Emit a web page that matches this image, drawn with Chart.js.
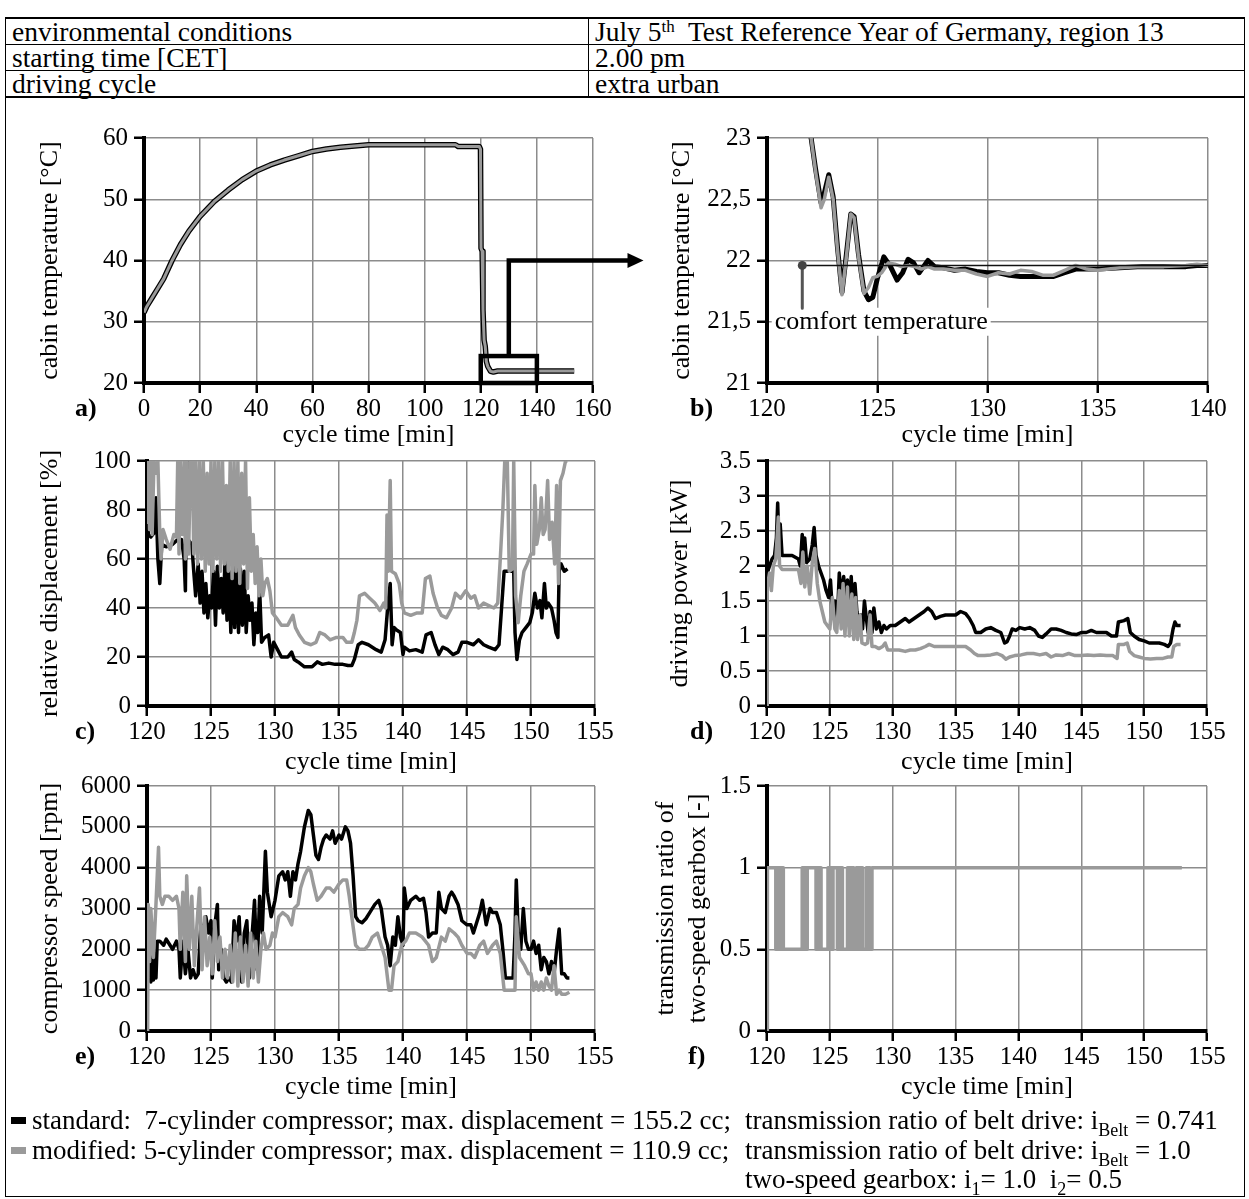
<!DOCTYPE html>
<html>
<head>
<meta charset="utf-8">
<script src="https://cdn.jsdelivr.net/npm/chart.js@4.4.1/dist/chart.umd.min.js"></script>
<style>
  body { margin: 0; background: #fff; width: 1249px; height: 1199px; position: relative; overflow: hidden;
         font-family: 'Liberation Serif', 'Times New Roman', serif; color: #000; }
  #frame { position: absolute; left: 5px; top: 17px; width: 1240px; height: 1180px; border: 1.5px solid #000; box-sizing: border-box; }
  #info { position: absolute; left: 5px; top: 17px; width: 1240px; border-collapse: collapse; table-layout: fixed; font-size: 27.5px; }
  #info td { border: 1.5px solid #000; height: 25px; padding: 0 0 0 6px; line-height: 25px; white-space: nowrap; }
  #info tr:first-child td { border-top: 2.5px solid #000; }
  #info tr:last-child td { border-bottom: 2.5px solid #000; }
  sup { font-size: 17px; vertical-align: 9px; line-height: 0; }
  sub { font-size: 18px; vertical-align: -7px; line-height: 0; }
  canvas { position: absolute; }
  .lbl { position: absolute; font-weight: bold; font-size: 26px; line-height: 30px; }
  .leg { position: absolute; font-size: 27px; line-height: 30px; white-space: pre; }
  .mark { position: absolute; width: 15px; height: 7px; }
</style>
</head>
<body>
<div id="frame"></div>
<table id="info">
  <colgroup><col style="width:583px"><col></colgroup>
  <tr><td>environmental conditions</td><td>July 5<sup>th</sup>&nbsp; Test Reference Year of Germany, region 13</td></tr>
  <tr><td>starting time [CET]</td><td>2.00 pm</td></tr>
  <tr><td>driving cycle</td><td>extra urban</td></tr>
</table>

<canvas id="pa" width="648" height="338" style="left:0px;top:117px"></canvas>
<canvas id="pb" width="619" height="338" style="left:630px;top:117px"></canvas>
<canvas id="pc" width="630" height="342" style="left:0px;top:440px"></canvas>
<canvas id="pd" width="619" height="342" style="left:630px;top:440px"></canvas>
<canvas id="pe" width="630" height="342" style="left:0px;top:765px"></canvas>
<canvas id="pf" width="619" height="342" style="left:630px;top:765px"></canvas>

<div class="lbl" style="left:75px;top:393px">a)</div>
<div class="lbl" style="left:690px;top:393px">b)</div>
<div class="lbl" style="left:75px;top:716px">c)</div>
<div class="lbl" style="left:690px;top:716px">d)</div>
<div class="lbl" style="left:75px;top:1041px">e)</div>
<div class="lbl" style="left:688px;top:1041px">f)</div>

<div class="mark" style="left:11px;top:1117px;background:#000"></div>
<div class="leg" style="left:32px;top:1105px">standard:  7-cylinder compressor; max. displacement = 155.2 cc;</div>
<div class="leg" style="left:745px;top:1105px">transmission ratio of belt drive: i<sub>Belt</sub> = 0.741</div>
<div class="mark" style="left:11px;top:1147px;background:#9a9a9a"></div>
<div class="leg" style="left:32px;top:1135px">modified: 5-cylinder compressor; max. displacement = 110.9 cc;</div>
<div class="leg" style="left:745px;top:1135px">transmission ratio of belt drive: i<sub>Belt</sub> = 1.0</div>
<div class="leg" style="left:745px;top:1164px">two-speed gearbox: i<sub>1</sub>= 1.0&nbsp; i<sub>2</sub>= 0.5</div>

<script>
// ---- data: [cycle time min, value] ----
// a) cabin temperature, whole cycle (both variants coincide at this scale)
const cabinTempStandard = [[0,31.5],[1,32.5],[3,34],[5,35.5],[7,37],[10,40],[13,42.6],[16,44.8],[20,47.2],[25,49.6],
  [30,51.5],[35,53.2],[40,54.6],[45,55.6],[50,56.4],[55,57.1],[60,57.8],[65,58.2],[70,58.5],[75,58.7],[80,58.9],
  [111,58.9],[112,58.6],[119.5,58.6],[119.9,58.2],[120.1,42],[120.5,41.5],[120.8,32],[121.2,27],[121.6,26],
  [122,23.5],[122.5,22.7],[123,22.3],[123.5,21.9],[124.5,21.8],[126,21.95],[153.3,21.95]];
const cabinTempModified = cabinTempStandard.slice();
const zoomBox = [120, 140, 20, 24.4];   // t0, t1, T0, T1
const arrowPath = [130, 24.4, 40, 178]; // x, from T, to T, arrow tip t

// b) cabin temperature, zoom
const zoomTempStandard = [[121.85,23.3],[122.0,23.0],[122.2,22.75],[122.45,22.47],[122.6,22.55],[122.8,22.7],[123.0,22.52],
  [123.2,22.1],[123.4,21.74],[123.6,22.05],[123.8,22.38],[123.95,22.36],[124.15,22.05],[124.4,21.75],[124.6,21.68],
  [124.8,21.7],[125.0,21.85],[125.3,22.03],[125.6,21.95],[125.9,21.84],[126.15,21.9],[126.4,22.01],[126.65,21.98],
  [126.9,21.9],[127.1,21.95],[127.3,22.0],[127.6,21.95],[128,21.94],[128.5,21.92],[129,21.93],[129.5,21.91],[130,21.9],
  [130.5,21.9],[131,21.88],[131.5,21.87],[132,21.87],[132.5,21.87],[133,21.87],[133.5,21.9],[134,21.93],[134.5,21.93],
  [135,21.93],[136,21.94],[137,21.95],[138,21.95],[139,21.95],[139.5,21.96],[140,21.96]];
const zoomTempModified = [[121.85,23.3],[122.0,23.0],[122.2,22.73],[122.45,22.43],[122.6,22.5],[122.8,22.68],[123.0,22.5],
  [123.2,22.08],[123.4,21.72],[123.6,22.03],[123.8,22.38],[123.95,22.35],[124.15,22.03],[124.4,21.73],[124.6,21.78],
  [124.8,21.86],[125.0,21.87],[125.2,21.9],[125.5,21.98],[125.8,21.97],[126.1,21.95],[126.4,21.96],[126.7,21.95],
  [127.0,21.93],[127.3,21.95],[127.6,21.93],[128,21.93],[128.5,21.92],[129,21.92],[129.5,21.89],[130,21.87],[130.5,21.9],
  [131,21.89],[131.5,21.92],[132,21.91],[132.5,21.88],[133,21.88],[133.5,21.92],[134,21.96],[134.5,21.93],[135,21.92],
  [136,21.94],[137,21.95],[138,21.95],[139,21.96],[139.5,21.97],[140,21.96]];
const comfortLine = [[121.6,21.96],[140,21.96]];
const comfortStick = [[121.6,21.96],[121.6,21.61]];
const comfortLabel = [120.35, 21.5, 'comfort temperature'];

// c) relative displacement [%]
const dispStandard = [[120.0,100],[120.1,70],[120.3,69],[120.6,71],[120.7,85],[120.85,60],[121.0,50],[121.15,66],[121.5,65],
  [122.0,66],[122.4,68],[122.7,68],[122.9,60],[123.0,47],[123.1,100],[123.2,68],[123.35,67],[123.5,66],[123.65,55],[123.8,45],
  [124.0,58],[124.15,42],[124.3,55],[124.45,38],[124.6,50],[124.75,36],[124.9,45],[125.05,40],[125.2,55],[125.35,33],
  [125.5,57],[125.65,40],[125.8,52],[125.95,38],[126.1,60],[126.25,35],[126.4,55],[126.55,30],[126.7,58],[126.85,32],
  [127.0,62],[127.15,30],[127.3,56],[127.45,33],[127.6,55],[127.75,30],[127.9,45],[128.05,35],[128.2,42],[128.35,25],
  [128.5,38],[128.65,30],[128.8,48],[128.95,26],[129.2,28],[129.5,29],[129.7,20],[129.9,26],[130.2,23],[130.5,20],
  [131.0,20],[131.3,22],[131.5,19],[131.8,18],[132.3,16],[132.9,16],[133.3,18],[133.7,17],[134.2,17.5],[134.7,17],
  [135.3,17],[135.7,16.5],[136.0,16.5],[136.2,19],[136.5,25],[136.8,26],[137.3,25],[137.9,23],[138.3,22],[138.6,27],
  [138.8,40],[139.0,50],[139.15,25],[139.3,32],[139.5,31],[139.8,30],[140.0,21],[140.1,24],[140.5,22.5],[141.0,23],
  [141.5,22],[141.8,29],[142.2,30],[142.5,25],[142.8,21],[143.1,24],[143.5,23],[143.9,21],[144.3,22],[144.6,26],
  [145.0,26],[145.5,25],[145.9,27],[146.3,25],[146.7,24],[147.2,23],[147.5,25],[147.7,40],[147.9,55],[148.3,55],
  [148.65,55],[148.75,30],[148.9,19],[149.1,27],[149.3,30],[149.6,32],[149.9,34],[150.1,38],[150.3,46],[150.5,40],
  [150.7,43],[150.85,36],[151.05,50],[151.2,40],[151.35,42],[151.6,40],[151.8,35],[151.95,30],[152.1,28],[152.2,55],
  [152.35,58],[152.6,55],[152.85,56]];
const dispModified = [[120.0,100],[120.05,75],[120.12,100],[120.2,72],[120.3,100],[120.4,70],[120.55,100],[120.7,95],
  [120.85,100],[121.0,70],[121.1,60],[121.25,72],[121.5,68],[121.8,64],[122.1,70],[122.3,69],[122.4,100],[122.5,62],
  [122.6,100],[122.75,70],[122.9,100],[123.0,60],[123.1,100],[123.25,62],[123.4,100],[123.55,100],[123.65,62],[123.8,100],
  [123.95,58],[124.1,100],[124.25,60],[124.4,100],[124.55,55],[124.7,95],[124.85,58],[125.0,100],[125.15,55],[125.3,100],
  [125.45,60],[125.6,100],[125.75,55],[125.9,100],[126.05,58],[126.2,90],[126.35,55],[126.5,100],[126.65,52],[126.8,100],
  [126.95,55],[127.1,100],[127.25,50],[127.4,95],[127.55,58],[127.7,100],[127.85,48],[128.0,85],[128.15,55],[128.3,70],
  [128.45,50],[128.6,65],[128.75,45],[128.9,60],[129.05,45],[129.2,50],[129.4,52],[129.6,47],[129.8,38],[130.1,36],
  [130.5,33],[131.0,33],[131.4,37],[131.6,32],[131.9,29],[132.3,26],[132.8,25],[133.2,26],[133.5,30],[133.9,29],
  [134.3,27],[134.8,28],[135.3,28],[135.6,26],[136.0,26],[136.2,30],[136.4,35],[136.6,45],[137.0,46],[137.4,44],
  [137.8,42],[138.2,39],[138.5,42],[138.65,40],[138.75,78],[138.85,55],[139.0,92],[139.1,55],[139.4,54],[139.7,50],
  [139.9,42],[140.1,38],[140.6,37],[141.1,38],[141.5,38],[141.75,52],[142.1,53],[142.35,46],[142.7,40],[143.0,37],
  [143.4,36],[143.8,40],[144.1,46],[144.5,44],[144.9,47],[145.3,44],[145.6,45],[145.9,40],[146.3,42],[146.7,41],
  [147.1,40],[147.4,42],[147.6,60],[147.8,80],[147.95,100],[148.15,100],[148.3,55],[148.55,56],[148.65,100],[148.8,45],
  [149.0,34],[149.2,45],[149.45,55],[149.7,58],[150.0,62],[150.2,62],[150.3,90],[150.45,66],[150.65,72],[150.8,85],
  [150.95,70],[151.1,72],[151.3,92],[151.45,68],[151.65,75],[151.85,58],[152.0,90],[152.15,50],[152.3,92],[152.5,95],
  [152.7,100],[152.85,100]];

// d) driving power [kW]
const powerStandard = [[120.0,0],[120.02,1.9],[120.2,2.0],[120.4,2.1],[120.6,2.15],[120.75,2.4],[120.85,2.9],[120.95,2.3],
  [121.05,2.6],[121.2,2.15],[121.6,2.15],[122.0,2.15],[122.5,2.1],[122.65,2.0],[122.8,2.45],[122.9,2.2],[123.0,2.4],
  [123.15,2.05],[123.4,2.1],[123.6,2.3],[123.75,2.55],[123.9,2.15],[124.1,2.0],[124.3,1.9],[124.5,1.8],[124.7,1.65],
  [124.9,1.55],[125.05,1.8],[125.2,1.35],[125.4,1.5],[125.6,1.25],[125.75,1.9],[125.9,1.55],[126.1,1.85],[126.25,1.45],
  [126.4,1.8],[126.55,1.3],[126.7,1.85],[126.85,1.25],[127.0,1.75],[127.15,1.35],[127.3,1.2],[127.45,1.3],[127.6,1.1],
  [127.75,1.5],[127.9,1.25],[128.05,1.05],[128.2,1.35],[128.35,1.05],[128.5,1.4],[128.7,1.1],[128.9,1.2],[129.1,1.05],
  [129.3,1.15],[129.5,1.1],[129.8,1.15],[130.2,1.15],[130.6,1.2],[131.0,1.25],[131.3,1.2],[131.7,1.25],[132.1,1.3],
  [132.5,1.35],[132.8,1.4],[133.1,1.35],[133.4,1.25],[133.8,1.28],[134.2,1.3],[134.6,1.3],[135.0,1.3],[135.4,1.35],
  [135.8,1.32],[136.1,1.25],[136.4,1.15],[136.6,1.05],[137.0,1.05],[137.4,1.1],[137.8,1.12],[138.2,1.08],[138.6,1.05],
  [138.9,0.9],[139.1,0.92],[139.3,1.0],[139.5,1.1],[139.8,1.08],[140.1,1.12],[140.5,1.1],[140.9,1.12],[141.3,1.08],
  [141.6,1.0],[141.9,0.98],[142.2,1.03],[142.6,1.1],[143.0,1.1],[143.4,1.08],[143.8,1.05],[144.2,1.03],[144.6,1.02],
  [145.0,1.05],[145.4,1.05],[145.8,1.08],[146.2,1.05],[146.6,1.05],[147.0,1.05],[147.4,1.0],[147.8,1.0],[147.95,1.2],
  [148.4,1.22],[148.7,1.25],[148.9,1.05],[149.2,1.0],[149.6,0.95],[150.0,0.93],[150.4,0.9],[150.8,0.9],[151.2,0.9],
  [151.6,0.88],[151.9,0.85],[152.1,0.9],[152.3,1.1],[152.45,1.2],[152.6,1.15],[152.9,1.15]];
const powerModified = [[120.0,0],[120.02,1.7],[120.2,1.9],[120.35,1.65],[120.5,2.0],[120.7,2.1],[120.8,2.4],[120.9,2.7],
  [121.0,2.0],[121.2,1.95],[121.6,1.95],[122.0,1.95],[122.5,1.95],[122.7,1.75],[122.85,2.2],[123.0,1.7],[123.2,2.0],
  [123.4,1.6],[123.6,2.05],[123.8,2.25],[124.0,1.75],[124.2,1.5],[124.4,1.35],[124.6,1.2],[124.8,1.15],[125.0,1.1],
  [125.2,1.55],[125.4,1.1],[125.55,1.05],[125.75,1.65],[125.9,1.1],[126.05,1.75],[126.2,1.0],[126.4,1.7],[126.55,1.0],
  [126.75,1.6],[126.9,0.95],[127.05,1.55],[127.2,0.95],[127.4,1.3],[127.55,0.9],[127.8,0.88],[128.0,0.9],[128.2,1.3],
  [128.35,0.85],[128.6,0.85],[128.9,0.82],[129.2,0.85],[129.4,0.9],[129.6,0.8],[130.0,0.8],[130.5,0.8],[131.0,0.78],
  [131.4,0.8],[131.8,0.8],[132.2,0.82],[132.6,0.85],[132.9,0.88],[133.3,0.85],[133.8,0.85],[134.3,0.85],[134.8,0.85],
  [135.3,0.85],[135.8,0.85],[136.2,0.8],[136.5,0.75],[136.8,0.72],[137.3,0.72],[137.8,0.73],[138.3,0.75],[138.7,0.72],
  [139.0,0.67],[139.3,0.7],[139.7,0.72],[140.2,0.73],[140.7,0.75],[141.2,0.75],[141.7,0.73],[142.2,0.75],[142.6,0.7],
  [143.0,0.73],[143.5,0.72],[144.0,0.75],[144.5,0.72],[145.0,0.72],[145.5,0.73],[146.0,0.72],[146.5,0.73],[147.0,0.72],
  [147.5,0.72],[147.85,0.68],[147.95,0.88],[148.4,0.88],[148.65,0.9],[148.85,0.78],[149.2,0.72],[149.6,0.7],[150.0,0.68],
  [150.5,0.67],[151.0,0.68],[151.5,0.68],[151.9,0.7],[152.2,0.7],[152.35,0.85],[152.6,0.88],[152.9,0.88]];

// e) compressor speed [rpm]
const speedStandard = [[120.1,1300],[120.2,2100],[120.3,1200],[120.4,1800],[120.5,1250],[120.6,1900],[120.7,1300],[120.8,2200],
  [121.0,2200],[121.3,2100],[121.5,2250],[121.8,2100],[122.0,2000],[122.3,2200],[122.5,2000],[122.6,1300],[122.8,2200],
  [123.0,1400],[123.2,2000],[123.4,1300],[123.6,1500],[123.8,1300],[124.0,1400],[124.2,2600],[124.4,2500],[124.6,2800],
  [124.8,2400],[125.0,2700],[125.1,1300],[125.3,2600],[125.5,3100],[125.6,1500],[125.8,2000],[126.0,1300],[126.2,1200],
  [126.4,1300],[126.6,1200],[126.8,2700],[127.0,2200],[127.2,2800],[127.4,1200],[127.6,2400],[127.8,2700],[128.0,1300],
  [128.2,2300],[128.4,3200],[128.6,1500],[128.8,3300],[129.0,2400],[129.25,4400],[129.4,3400],[129.5,3200],[129.7,2800],
  [130.0,3200],[130.3,3800],[130.6,3900],[130.8,3700],[131.0,3900],[131.2,3300],[131.4,3900],[131.6,3700],[131.8,4100],
  [132.0,4400],[132.3,5000],[132.6,5400],[132.8,5300],[133.0,4800],[133.2,4300],[133.4,4200],[133.6,4500],[133.8,4700],
  [134.0,4800],[134.3,4700],[134.5,4900],[134.7,4600],[135.0,4800],[135.2,4700],[135.5,5000],[135.7,4900],[135.9,4600],
  [136.1,3800],[136.3,2800],[136.5,2700],[136.8,2650],[137.1,2750],[137.4,2900],[137.8,3100],[138.1,3200],[138.3,3000],
  [138.6,2300],[138.8,2100],[139.0,1600],[139.2,2300],[139.4,2100],[139.6,2800],[139.8,2300],[140.0,2100],[140.1,3500],
  [140.3,3000],[140.6,3200],[141.0,3300],[141.3,3200],[141.6,3250],[141.8,2900],[142.0,2300],[142.3,2400],[142.6,2400],
  [142.8,3400],[143.0,3000],[143.3,2900],[143.6,3300],[143.8,3400],[144.0,3300],[144.3,3100],[144.6,2700],[145.0,2600],
  [145.3,2600],[145.5,2400],[145.8,2700],[146.0,2900],[146.2,3200],[146.5,2600],[146.8,3000],[147.0,2900],[147.3,2900],
  [147.6,2600],[147.8,2000],[148.0,1300],[148.3,1300],[148.6,1300],[148.75,2400],[148.85,3700],[149.0,2400],[149.2,2000],
  [149.4,3000],[149.6,2200],[149.8,2000],[150.0,2000],[150.2,2200],[150.4,1900],[150.6,2100],[150.8,1500],[151.0,1800],
  [151.2,1700],[151.4,1400],[151.6,1700],[151.8,1400],[152.0,2000],[152.2,2500],[152.4,1400],[152.6,1400],[152.8,1300],
  [153.0,1300]];
const speedModified = [[120.05,0],[120.1,3100],[120.2,1700],[120.3,3000],[120.5,1800],[120.7,3100],[120.9,4500],[121.0,3300],
  [121.2,3100],[121.4,3300],[121.7,3300],[122.0,3200],[122.3,3300],[122.5,3000],[122.6,2000],[122.8,3400],[123.0,1700],
  [123.1,3800],[123.3,2000],[123.5,3300],[123.7,1600],[123.9,2600],[124.1,3500],[124.3,1500],[124.5,2800],[124.7,1600],
  [124.9,2300],[125.1,1400],[125.3,2700],[125.5,1700],[125.7,2300],[125.9,1300],[126.1,2000],[126.3,1300],[126.5,2100],
  [126.7,1200],[126.9,2400],[127.1,1100],[127.3,2300],[127.5,1200],[127.7,2100],[127.9,1100],[128.1,2400],[128.3,1300],
  [128.5,2200],[128.7,1200],[128.9,2000],[129.1,2400],[129.3,2000],[129.6,2100],[129.8,2400],[130.0,2300],[130.3,2800],
  [130.6,2900],[131.0,2800],[131.3,2600],[131.5,3000],[131.8,3100],[132.0,3500],[132.3,3800],[132.6,4000],[132.8,3900],
  [133.0,3600],[133.3,3200],[133.6,3300],[134.0,3500],[134.3,3500],[134.6,3400],[135.0,3600],[135.3,3700],[135.6,3700],
  [135.8,3300],[136.0,2800],[136.3,2100],[136.6,2000],[137.0,2000],[137.3,2100],[137.6,2300],[138.0,2400],[138.3,2100],
  [138.6,1800],[138.9,1000],[139.1,1000],[139.3,1600],[139.6,1700],[139.9,2100],[140.2,2200],[140.5,2400],[141.0,2400],
  [141.5,2300],[142.0,2100],[142.3,1700],[142.6,1800],[143.0,2300],[143.3,2200],[143.6,2500],[144.0,2400],[144.3,2300],
  [144.6,2100],[145.0,1900],[145.3,1900],[145.6,1800],[146.0,2100],[146.3,2200],[146.6,1900],[147.0,2100],[147.3,2200],
  [147.6,1900],[147.9,1000],[148.2,1000],[148.5,1000],[148.75,1000],[148.85,2800],[149.1,1800],[149.5,1600],[149.8,1400],
  [150.0,1400],[150.2,1000],[150.4,1200],[150.6,1000],[150.8,1200],[151.0,1000],[151.2,1300],[151.4,1100],[151.6,1000],
  [151.8,1600],[152.0,900],[152.2,1000],[152.4,900],[152.7,900],[153.0,950]];

// f) transmission ratio of two-speed gearbox (value holds from the given time on)
const gearRatioModified = [[120.0,0],[120.03,1],[120.7,0.5],[120.8,1],[120.9,0.5],[121.0,1],[121.1,0.5],[121.2,1],[121.3,0.5],
  [122.8,1],[122.9,0.5],[123.0,1],[123.1,0.5],[123.2,1],[123.9,0.5],[124.0,1],[124.1,0.5],[124.2,1],[124.3,0.5],
  [124.85,1],[124.95,0.5],[125.05,1],[125.15,0.5],[125.25,1],[125.6,0.5],[125.7,1],[125.8,0.5],[125.9,1],[126.0,0.5],
  [126.4,1],[126.5,0.5],[126.6,1],[126.7,0.5],[126.8,1],[126.9,0.5],[127.1,1],[127.2,0.5],[127.3,1],[127.4,0.5],
  [127.5,1],[127.6,0.5],[127.9,1],[128.0,0.5],[128.1,1],[128.2,0.5],[128.35,1],[153.0,1]];

// ticks
const aXTicks = [0, 20, 40, 60, 80, 100, 120, 140, 160];
const aYTicks = [20, 30, 40, 50, 60];
const bXTicks = [120, 125, 130, 135, 140];
const bYTicks = [21, 21.5, 22, 22.5, 23];
const bYLabels = ['21', '21,5', '22', '22,5', '23'];
const timeTicks = [120, 125, 130, 135, 140, 145, 150, 155];
const cYTicks = [0, 20, 40, 60, 80, 100];
const dYTicks = [0, 0.5, 1, 1.5, 2, 2.5, 3, 3.5];
const eYTicks = [0, 1000, 2000, 3000, 4000, 5000, 6000];
const fYTicks = [0, 0.5, 1, 1.5];

// ---- drawing ----
const FONT = "'Liberation Serif', 'Times New Roman', serif";
const BLACK = '#000000', GRAY = '#9a9a9a', GRID = '#8c8c8c';
Chart.defaults.font.family = FONT;
Chart.defaults.color = '#000';

function pts(pairs) { return pairs.map(p => ({ x: p[0], y: p[1] })); }

function line(pairs, color, width, order, extra) {
  return Object.assign({
    data: pts(pairs), borderColor: color, backgroundColor: color, borderWidth: width,
    pointRadius: 0, tension: 0, fill: false, order: order, borderJoinStyle: 'round'
  }, extra || {});
}

function axis(ticks, labels, size, isX, title, titleLH) {
  return {
    type: 'linear',
    min: ticks[0], max: ticks[ticks.length - 1],
    afterBuildTicks: s => { s.ticks = ticks.map(v => ({ value: v })); },
    afterFit: s => { if (isX) s.height = size; else s.width = size; },
    ticks: {
      callback: (v, i) => labels ? labels[i] : String(v),
      font: { size: 25 }, color: '#000', padding: isX ? 1 : 6, autoSkip: false, maxRotation: 0
    },
    grid: { color: GRID, lineWidth: 1.5, tickColor: '#000', tickLength: 10, tickWidth: 2.5 },
    border: { color: '#000', width: 4 },
    title: { display: true, text: title, color: '#000', font: { size: 26, lineHeight: titleLH || 1.2 }, padding: { top: 4, bottom: 4 } }
  };
}

function panel(id, o) {
  return new Chart(document.getElementById(id), {
    type: 'line',
    data: { datasets: o.datasets },
    options: {
      responsive: false, animation: false, devicePixelRatio: 1,
      layout: { padding: { left: o.pl, right: o.pr, top: 20, bottom: 0 } },
      plugins: { legend: { display: false }, tooltip: { enabled: false } },
      scales: {
        x: axis(o.xTicks, null, o.xh, true, 'cycle time [min]'),
        y: axis(o.yTicks, o.yLabels, o.yw, false, o.yTitle, o.titleLH)
      }
    },
    plugins: o.plugins || []
  });
}

// zoom box and arrow in panel a
const boxArrow = {
  id: 'boxArrow',
  afterDatasetsDraw(chart) {
    const { ctx, scales: { x, y } } = chart;
    ctx.save();
    ctx.strokeStyle = '#000';
    ctx.fillStyle = '#000';
    ctx.lineWidth = 4.5;
    const bx0 = x.getPixelForValue(zoomBox[0]), bx1 = x.getPixelForValue(zoomBox[1]);
    const by0 = y.getPixelForValue(zoomBox[2]), by1 = y.getPixelForValue(zoomBox[3]);
    ctx.strokeRect(bx0, by1, bx1 - bx0, by0 - by1);
    const ax = x.getPixelForValue(arrowPath[0]);
    const ay0 = y.getPixelForValue(arrowPath[1]), ay1 = y.getPixelForValue(arrowPath[2]);
    const tip = x.getPixelForValue(arrowPath[3]);
    ctx.lineJoin = 'miter';
    ctx.beginPath();
    ctx.moveTo(ax, ay0);
    ctx.lineTo(ax, ay1);
    ctx.lineTo(tip - 14, ay1);
    ctx.stroke();
    ctx.beginPath();
    ctx.moveTo(tip, ay1);
    ctx.lineTo(tip - 16, ay1 - 7.5);
    ctx.lineTo(tip - 16, ay1 + 7.5);
    ctx.closePath();
    ctx.fill();
    ctx.restore();
  }
};

// "comfort temperature" label in panel b
const comfortText = {
  id: 'comfortText',
  beforeDatasetsDraw(chart) {
    const { ctx, scales: { x, y } } = chart;
    ctx.save();
    ctx.font = '26px ' + FONT;
    const px = x.getPixelForValue(comfortLabel[0]), py = y.getPixelForValue(comfortLabel[1]);
    const w = ctx.measureText(comfortLabel[2]).width;
    ctx.fillStyle = '#fff';
    ctx.fillRect(px - 3, py - 14, w + 6, 28);
    ctx.fillStyle = '#000';
    ctx.textBaseline = 'middle';
    ctx.fillText(comfortLabel[2], px, py);
    ctx.restore();
  }
};

panel('pa', {
  pl: 31, pr: 55, yw: 113, xh: 72, xTicks: aXTicks, yTicks: aYTicks, yTitle: 'cabin temperature [°C]',
  datasets: [line(cabinTempStandard, BLACK, 5.5, 1), line(cabinTempModified, GRAY, 3, 0)],
  plugins: [boxArrow]
});

panel('pb', {
  pl: 33, pr: 41, yw: 104, xh: 72, xTicks: bXTicks, yTicks: bYTicks, yLabels: bYLabels, yTitle: 'cabin temperature [°C]',
  datasets: [
    line(zoomTempStandard, BLACK, 5, 3),
    line(zoomTempModified, GRAY, 3.5, 2),
    line(comfortStick, '#555555', 3, 1),
    line(comfortLine, '#111111', 1.5, 0, { pointRadius: [4.5, 0], pointBackgroundColor: '#444', pointBorderWidth: 0 })
  ],
  plugins: [comfortText]
});

panel('pc', {
  pl: 31, pr: 35, yw: 116, xh: 76, xTicks: timeTicks, yTicks: cYTicks, yTitle: 'relative displacement [%]',
  datasets: [line(dispStandard, BLACK, 3.5, 1), line(dispModified, GRAY, 3.5, 0)]
});

panel('pd', {
  pl: 31, pr: 42, yw: 106, xh: 76, xTicks: timeTicks, yTicks: dYTicks, yTitle: 'driving power [kW]',
  datasets: [line(powerStandard, BLACK, 3.5, 1), line(powerModified, GRAY, 3.5, 0)]
});

panel('pe', {
  pl: 31, pr: 35, yw: 116, xh: 76, xTicks: timeTicks, yTicks: eYTicks, yTitle: 'compressor speed [rpm]',
  datasets: [line(speedStandard, BLACK, 3.5, 1), line(speedModified, GRAY, 3.5, 0)]
});

panel('pf', {
  pl: 16, pr: 42, yw: 121, xh: 76, xTicks: timeTicks, yTicks: fYTicks, titleLH: 1.23,
  yTitle: ['transmission ratio of', 'two-speed gearbox [-]'],
  datasets: [line(gearRatioModified, GRAY, 3.5, 0, { stepped: 'before' })]
});
</script>
</body>
</html>
